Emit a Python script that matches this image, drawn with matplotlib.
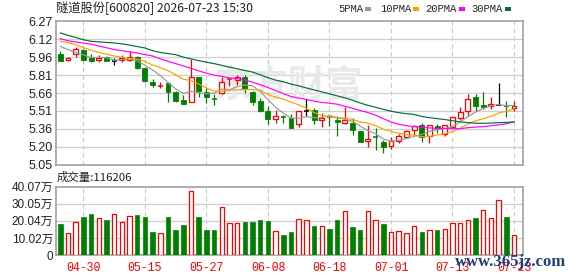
import matplotlib
matplotlib.use("Agg")
import matplotlib.pyplot as plt
from matplotlib.patches import Rectangle
import numpy as np

plt.rcParams['font.family'] = ['Liberation Sans', 'Noto Sans CJK SC', 'DejaVu Sans']

# ---------------- data ----------------
opens = [5.99, 5.94, 5.995, 6.025, 5.97, 5.94, 5.965, 5.935, 5.945, 5.94,
         5.97, 5.87, 5.75, 5.72, 5.745, 5.67, 5.60, 5.58, 5.80, 5.67,
         5.612, 5.663, 5.776, 5.77, 5.80, 5.67, 5.59, 5.505, 5.436, 5.457,
         5.447, 5.40, 5.504, 5.515, 5.433, 5.46, 5.43, 5.408, 5.402, 5.34,
         5.249, 5.287, 5.243, 5.206, 5.249, 5.283, 5.348, 5.385, 5.291, 5.376,
         5.31, 5.37, 5.447, 5.504, 5.626, 5.555, 5.549, 5.56, 5.552, 5.535]
closes = [5.935, 5.96, 6.035, 5.94, 5.93, 5.96, 5.935, 5.935, 5.955, 5.963,
          5.87, 5.76, 5.725, 5.725, 5.67, 5.595, 5.57, 5.80, 5.68, 5.625,
          5.608, 5.75, 5.78, 5.80, 5.695, 5.58, 5.51, 5.44, 5.464, 5.453,
          5.362, 5.505, 5.504, 5.433, 5.447, 5.455, 5.413, 5.43, 5.348, 5.243,
          5.268, 5.283, 5.203, 5.249, 5.291, 5.334, 5.376, 5.286, 5.385, 5.354,
          5.385, 5.453, 5.495, 5.609, 5.547, 5.538, 5.566, 5.56, 5.549, 5.552]
highs = [6.015, 5.97, 6.05, 6.035, 5.99, 5.98, 5.975, 5.96, 5.985, 6.015,
         5.975, 5.88, 5.78, 5.754, 5.75, 5.68, 5.646, 5.947, 5.80, 5.70,
         5.65, 5.796, 5.78, 5.816, 5.816, 5.675, 5.617, 5.55, 5.515, 5.475,
         5.48, 5.505, 5.606, 5.532, 5.487, 5.467, 5.467, 5.544, 5.447, 5.34,
         5.385, 5.362, 5.26, 5.283, 5.311, 5.345, 5.385, 5.405, 5.39, 5.396,
         5.39, 5.459, 5.538, 5.652, 5.652, 5.669, 5.626, 5.745, 5.589, 5.589]
lows = [5.935, 5.93, 5.97, 5.93, 5.925, 5.925, 5.935, 5.895, 5.92, 5.93,
        5.865, 5.75, 5.71, 5.703, 5.58, 5.58, 5.57, 5.58, 5.629, 5.575,
        5.555, 5.655, 5.717, 5.73, 5.66, 5.555, 5.50, 5.40, 5.408, 5.408,
        5.36, 5.368, 5.461, 5.396, 5.368, 5.376, 5.294, 5.396, 5.30, 5.243,
        5.203, 5.172, 5.152, 5.186, 5.234, 5.277, 5.30, 5.243, 5.234, 5.32,
        5.29, 5.362, 5.433, 5.461, 5.504, 5.527, 5.521, 5.555, 5.458, 5.504]

ma5 = [6.057, 6.029, 6.006, 5.985, 5.96, 5.965, 5.96, 5.94, 5.943, 5.95,
       5.932, 5.897, 5.855, 5.809, 5.75, 5.695, 5.657, 5.672, 5.663, 5.654,
       5.657, 5.693, 5.689, 5.713, 5.727, 5.721, 5.673, 5.605, 5.538, 5.489,
       5.446, 5.445, 5.458, 5.451, 5.45, 5.469, 5.45, 5.436, 5.419, 5.378,
       5.34, 5.314, 5.269, 5.249, 5.259, 5.272, 5.291, 5.307, 5.334, 5.347,
       5.357, 5.373, 5.414, 5.459, 5.498, 5.528, 5.551, 5.564, 5.552, 5.553]
ma10 = [6.10, 6.09, 6.07, 6.045, 6.025, 6.005, 5.99, 5.975, 5.965, 5.955,
        5.948, 5.929, 5.898, 5.876, 5.85, 5.814, 5.777, 5.764, 5.736, 5.702,
        5.676, 5.675, 5.68, 5.688, 5.69, 5.689, 5.683, 5.647, 5.625, 5.608,
        5.583, 5.559, 5.531, 5.494, 5.469, 5.457, 5.447, 5.447, 5.435, 5.414,
        5.404, 5.382, 5.352, 5.334, 5.318, 5.306, 5.302, 5.288, 5.291, 5.303,
        5.314, 5.332, 5.36, 5.396, 5.422, 5.442, 5.462, 5.489, 5.505, 5.525]
ma20 = [6.122, 6.105, 6.094, 6.085, 6.075, 6.06, 6.045, 6.03, 6.02, 6.01,
        6.0, 5.987, 5.975, 5.95, 5.93, 5.91, 5.89, 5.87, 5.848, 5.829,
        5.812, 5.802, 5.789, 5.782, 5.77, 5.752, 5.73, 5.706, 5.681, 5.655,
        5.63, 5.617, 5.606, 5.591, 5.58, 5.573, 5.565, 5.547, 5.53, 5.511,
        5.494, 5.471, 5.442, 5.414, 5.394, 5.382, 5.375, 5.368, 5.363, 5.359,
        5.359, 5.357, 5.356, 5.365, 5.37, 5.374, 5.382, 5.389, 5.398, 5.414]
ma30 = [6.171, 6.15, 6.133, 6.113, 6.10, 6.095, 6.09, 6.086, 6.078, 6.068,
        6.055, 6.043, 6.02, 6.005, 5.995, 5.986, 5.965, 5.95, 5.935, 5.922,
        5.91, 5.895, 5.88, 5.866, 5.852, 5.838, 5.815, 5.79, 5.77, 5.755,
        5.736, 5.721, 5.703, 5.686, 5.67, 5.653, 5.636, 5.619, 5.599, 5.575,
        5.555, 5.539, 5.521, 5.505, 5.493, 5.484, 5.478, 5.461, 5.45, 5.442,
        5.434, 5.424, 5.414, 5.408, 5.403, 5.402, 5.404, 5.408, 5.41, 5.414]

volumes = [18.27, 12.77, 19.64, 22.2, 23.96, 22.0, 20.43, 23.96, 19.25, 22.78,
           23.37, 22.2, 13.36, 12.77, 22.2, 14.54, 17.48, 37.32, 22.2, 14.54,
           14.54, 28.09, 18.66, 18.66, 19.25, 19.25, 20.43, 19.84, 14.34, 11.59,
           13.36, 21.41, 20.82, 16.89, 17.28, 15.12, 20.43, 25.53, 16.3, 14.54,
           25.53, 20.82, 18.07, 13.36, 14.34, 12.77, 17.28, 13.36, 14.93, 14.54,
           15.52, 19.05, 19.05, 20.82, 21.61, 26.12, 22.0, 32.02, 22.2, 11.62]
vol_up = [0, 1, 1, 0, 0, 1, 0, 1, 1, 1,
          0, 0, 0, 1, 0, 0, 0, 1, 0, 0,
          0, 1, 1, 1, 0, 0, 0, 0, 1, 0,
          0, 1, 1, 0, 1, 0, 0, 1, 0, 0,
          1, 1, 0, 1, 1, 1, 1, 0, 1, 0,
          1, 1, 1, 1, 0, 1, 1, 1, 0, 1]

date_idx = [3, 11, 19, 27, 35, 43, 51, 59]
date_labels = ['04-30', '05-15', '05-27', '06-08', '06-18', '07-01', '07-13', '07-23']
price_ticks = [5.05, 5.2025, 5.355, 5.5075, 5.66, 5.8125, 5.965, 6.1175, 6.27]
price_labels = ['5.05', '5.20', '5.36', '5.51', '5.66', '5.81', '5.96', '6.12', '6.27']
vol_ticks = [0, 10.02, 20.04, 30.05, 40.07]
vol_labels = ['0', '10.02万', '20.04万', '30.05万', '40.07万']

title = '隧道股份[600820] 2026-07-23 15:30'
vol_title = '成交量:116206'
ma_names = ['5PMA', '10PMA', '20PMA', '30PMA']
ma_colors = ['#999999', '#f5a300', '#ff00ff', '#006e3b']

RED = '#ff0000'
GREEN = '#008000'
GRID = '#cfcfcf'
SPINE = '#999999'

# ---------------- figure ----------------
W, H = 578, 276
fig = plt.figure(figsize=(W / 100, H / 100), dpi=100)
L, R = 55.7, 522.7
ax = fig.add_axes([L / W, 1 - 164.7 / H, (R - L) / W, (164.7 - 21.3) / H])
axv = fig.add_axes([L / W, 1 - 255 / H, (R - L) / W, (255 - 186.7) / H])

n = len(closes)
x = np.arange(n)
for a in (ax, axv):
    a.set_xlim(-0.6, 60.13)
    for s in a.spines.values():
        s.set_color(SPINE)
        s.set_linewidth(1.1)
    a.tick_params(length=0)
    for d in date_idx:
        a.axvline(d, color='#c8c8c8', lw=0.8, ls=(0, (4, 3)), zorder=0)

ax.set_ylim(5.05, 6.27)
ax.set_yticks(price_ticks)
ax.set_yticklabels(price_labels, fontsize=9, color='#222222')
ax.tick_params(axis='y', pad=2)
ax.set_xticks([])
for t in price_ticks[1:-1]:
    ax.axhline(t, color=GRID, lw=0.9, zorder=0)

# watermark
ax.text(0.50, 0.55, '东方财富', transform=ax.transAxes, fontsize=27,
        family=['Noto Sans CJK SC'], color='#e9e9e9', ha='center', va='center',
        style='italic', fontweight='bold', zorder=0.5)

bw = 0.64
for i in range(n):
    o, c, h, l = opens[i], closes[i], highs[i], lows[i]
    if c > o:
        col = RED
    elif c < o:
        col = GREEN
    else:
        col = 'black'
    top, bot = max(o, c), min(o, c)
    if top - bot < 0.006:
        ax.vlines(i, l, h, color=col, lw=0.9, zorder=2)
        ax.hlines((o + c) / 2, i - bw / 2, i + bw / 2, color=col, lw=1.1, zorder=2)
        continue
    ax.vlines(i, top, h, color=col, lw=0.9, zorder=2)
    ax.vlines(i, l, bot, color=col, lw=0.9, zorder=2)
    if col == RED:
        ax.bar(i, top - bot, bottom=bot, width=bw, facecolor='white',
               edgecolor=RED, linewidth=0.9, zorder=3)
    else:
        ax.bar(i, top - bot, bottom=bot, width=bw, facecolor=GREEN,
               edgecolor=GREEN, linewidth=0.6, zorder=3)

for vals, colr in zip([ma5, ma10, ma20, ma30], ma_colors):
    ax.plot(x, vals, color=colr, lw=0.85, zorder=4)

# volume
axv.set_ylim(0, 40.07)
axv.set_yticks(vol_ticks)
axv.set_yticklabels(vol_labels, fontsize=8.5, color='#222222')
axv.tick_params(axis='y', pad=2)
for t in vol_ticks[1:-1]:
    axv.axhline(t, color=GRID, lw=0.9, zorder=0)
vw = 0.58
for i in range(n):
    if vol_up[i]:
        axv.bar(i, volumes[i], width=vw, facecolor='white', edgecolor=RED,
                linewidth=0.9, zorder=3)
    else:
        axv.bar(i, volumes[i], width=vw, facecolor=GREEN, edgecolor=GREEN,
                linewidth=0.5, zorder=3)
axv.set_xticks(date_idx)
axv.set_xticklabels(date_labels, fontsize=8.3, color=RED, family=['Liberation Mono'])
axv.tick_params(axis='x', pad=5)

# texts
fig.text(56.5 / W, 1 - 8.5 / H, title, fontsize=8.8,
         family=['Noto Sans CJK SC', 'DejaVu Sans'], color='#222222',
         ha='left', va='center')
fig.text(56.5 / W, 1 - 177.5 / H, vol_title, fontsize=8.2,
         family=['Noto Sans CJK SC', 'DejaVu Sans'], color='#222222',
         ha='left', va='center')

leg_x = [338, 380, 425.5, 471.5]
sq_x = [365, 413, 459, 505]
for name, colr, tx, sx in zip(ma_names, ma_colors, leg_x, sq_x):
    fig.text(tx / W, 1 - 9 / H, name, fontsize=7.6, family=['Liberation Mono'],
             color='#222222', ha='left', va='center')
    fig.add_artist(Rectangle((sx / W, 1 - 10.5 / H), 6 / W, 3 / H,
                             transform=fig.transFigure, facecolor=colr,
                             edgecolor='none'))

fig.text(455 / W, 1 - 262 / H, 'www.365jz.com', fontsize=12,
         family=['Liberation Serif'], fontweight='bold', color='#1c3f7a',
         ha='left', va='center')

fig.savefig('out.png', dpi=100, facecolor='white')
